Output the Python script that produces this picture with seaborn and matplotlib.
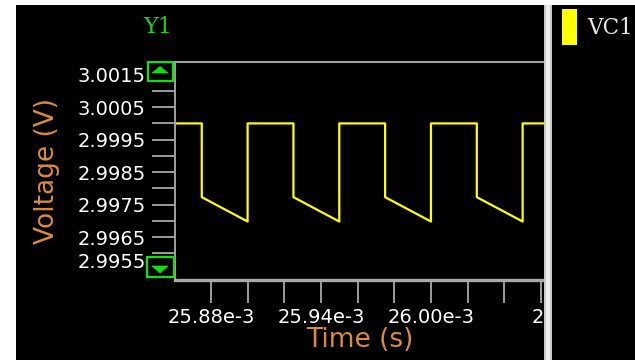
import matplotlib
matplotlib.use("Agg")
import matplotlib.pyplot as plt
import matplotlib.transforms as mtransforms
from matplotlib.patches import Rectangle, Polygon
import pandas as pd
import seaborn as sns

# ---- data -------------------------------------------------------------
# vertices of the VC1 waveform (time in s, voltage in V)
time_s = [25.8604e-3,
          25.875e-3, 25.875e-3, 25.900e-3, 25.900e-3,
          25.925e-3, 25.925e-3, 25.950e-3, 25.950e-3,
          25.975e-3, 25.975e-3, 26.000e-3, 26.000e-3,
          26.025e-3, 26.025e-3, 26.050e-3, 26.050e-3,
          26.0622e-3]
voltage_v = [3.0000,
             3.0000, 2.99773, 2.99698, 3.0000,
             3.0000, 2.99773, 2.99698, 3.0000,
             3.0000, 2.99773, 2.99698, 3.0000,
             3.0000, 2.99773, 2.99698, 3.0000,
             3.0000]

y_major = [3.0015, 3.0005, 2.9995, 2.9985, 2.9975, 2.9965, 2.9955]
y_labels = ["3.0015", "3.0005", "2.9995", "2.9985", "2.9975", "2.9965", "2.9955"]
y_minor = [3.0010, 3.0000, 2.9990, 2.9980, 2.9970, 2.9960]

x_major = [25.88e-3, 25.94e-3, 26.00e-3, 26.06e-3]
x_labels = ["25.88e-3", "25.94e-3", "26.00e-3", "26.06e-3"]
x_minor = [25.90e-3, 25.92e-3, 25.96e-3, 25.98e-3, 26.02e-3, 26.04e-3]

series_name = "VC1"
axis_name = "Y1"
x_title = "Time (s)"
y_title = "Voltage (V)"

# ---- style ------------------------------------------------------------
sns.set_style("dark", {"axes.facecolor": "black"})
plt.rcParams["font.family"] = ["DejaVu Sans"]

W, H = 635, 360
fig = plt.figure(figsize=(W / 100, H / 100), dpi=100, facecolor="white")


def fx(px):
    return px / W


def fy(py):
    return 1 - py / H


# black panel behind everything (thin white margin on left and top)
fig.add_artist(Rectangle((fx(16), 0), fx(W - 16), 1 - (5 / H),
                         transform=fig.transFigure, facecolor="black",
                         edgecolor="none", zorder=-10))

ax = fig.add_axes([fx(175), fy(280), fx(370), 218 / H])
ax.set_facecolor("black")

df = pd.DataFrame({"t": time_s, "v": voltage_v})
sns.lineplot(data=df, x="t", y="v", estimator=None, sort=False,
             color="#ffff00", linewidth=1.6, ax=ax)

ax.set_xlim(25.8604e-3, 26.0622e-3)
ax.set_ylim(2.99518, 3.00189)

grey = "#a8a8a8"
ax.set_yticks(y_major)
ax.set_yticklabels(y_labels)
ax.set_yticks(y_minor, minor=True)
ax.set_xticks(x_major)
ax.set_xticklabels(x_labels)
ax.set_xticks(x_minor, minor=True)

ax.tick_params(axis="both", which="both", direction="out", length=16.5,
               width=1.3, color=grey, labelcolor="white", labelsize=14)
ax.tick_params(axis="y", which="both", pad=4.5)
ax.tick_params(axis="x", which="both", pad=3.5)
ax.tick_params(left=True, bottom=True, which="both")
ax.grid(False)

for side in ["top", "left", "bottom", "right"]:
    ax.spines[side].set_visible(True)
ax.spines["top"].set_color("#a0a0a0")
ax.spines["top"].set_linewidth(1.5)
ax.spines["left"].set_color("#a0a0a0")
ax.spines["left"].set_linewidth(1.4)
ax.spines["bottom"].set_color(grey)
ax.spines["bottom"].set_linewidth(2.4)
ax.spines["right"].set_visible(False)

ax.set_xlabel(x_title, color="#d98c3f", fontsize=19)
ax.set_ylabel(y_title, color="#d98c3f", fontsize=19)
ax.xaxis.set_label_coords(0.5, -0.275)
ax.xaxis.label.set_va("center")
ax.yaxis.set_label_coords(-0.346, 0.5)
ax.yaxis.label.set_va("center")

# nudge the end labels the way the scope software lays them out
fig.canvas.draw()
ylab = ax.get_yticklabels()[-1]
ylab.set_transform(ylab.get_transform() +
                   mtransforms.ScaledTranslation(0, 9.5 / 100, fig.dpi_scale_trans))
xlab = ax.get_xticklabels()[-1]
xlab.set_horizontalalignment("left")
xlab.set_transform(xlab.get_transform() +
                   mtransforms.ScaledTranslation(-9 / 100, 0, fig.dpi_scale_trans))

# scroll buttons on the Y axis
green = "#10e010"
for (x0, y0, x1, y1), tri in [
        ((148, 62, 173, 81), [(152, 73), (168, 73), (160, 66.5)]),
        ((147, 257, 174, 277), [(152, 266), (168, 266), (160, 273)])]:
    fig.add_artist(Rectangle((fx(x0), fy(y1)), fx(x1 - x0), (y1 - y0) / H,
                             transform=fig.transFigure, facecolor="black",
                             edgecolor=green, linewidth=1.6, zorder=4))
    fig.add_artist(Polygon([(fx(a), fy(b)) for a, b in tri], closed=True,
                           transform=fig.transFigure, facecolor=green,
                           edgecolor=green, linewidth=0.5, zorder=5))

fig.text(fx(157.5), fy(27), axis_name, color="#20d020", fontsize=16,
         family=["DejaVu Serif"], ha="center", va="center")

# legend panel on the right
fig.add_artist(Rectangle((fx(552), 0), fx(W - 552), 1 - 5 / H,
                         transform=fig.transFigure, facecolor="black",
                         edgecolor="none", zorder=6))
fig.add_artist(Rectangle((fx(544), 0), fx(8), 1 - 5 / H,
                         transform=fig.transFigure, facecolor="#c8c8c8",
                         edgecolor="none", zorder=7))
fig.add_artist(Rectangle((fx(546), 0), fx(4), 1 - 5 / H,
                         transform=fig.transFigure, facecolor="#eeeeee",
                         edgecolor="none", zorder=7))
fig.add_artist(Rectangle((fx(562), fy(45)), fx(15), 36 / H,
                         transform=fig.transFigure, facecolor="#ffff00",
                         edgecolor="none", zorder=8))
fig.text(fx(587), fy(28), series_name, color="#e8e8e8", fontsize=15.5,
         family=["DejaVu Serif"], ha="left", va="center", zorder=9)

fig.savefig("out.png", dpi=100, facecolor="white")
